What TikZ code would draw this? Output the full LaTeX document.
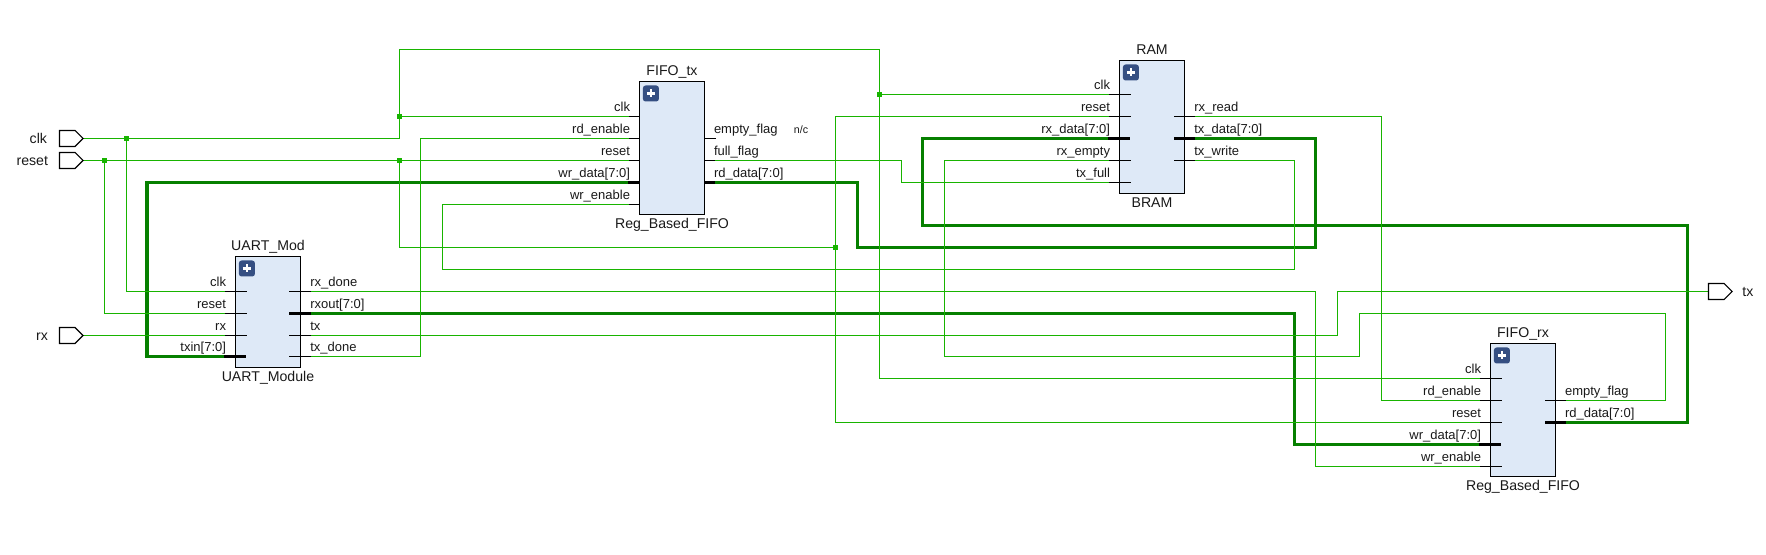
\documentclass[tikz,border=0pt]{standalone}
\usepackage{fontspec}
\setmainfont{Liberation Sans}
\definecolor{wire}{RGB}{24,180,0}
\definecolor{buswire}{RGB}{6,128,0}
\definecolor{modfill}{RGB}{222,233,247}
\definecolor{plusfill}{RGB}{53,79,130}
\definecolor{txt}{RGB}{25,25,25}
\tikzset{
  net/.style={draw=wire,line width=0.85pt,line join=miter},
  bus/.style={draw=buswire,line width=2.4pt,line join=miter},
  thinstub/.style={draw=black,line width=0.8pt},
  busstub/.style={draw=black,line width=2.4pt},
  module/.style={draw=black,line width=0.85pt,fill=modfill},
  portshape/.style={draw=black,line width=0.8pt,fill=white,line join=miter},
  lab/.style={inner sep=0pt,outer sep=0pt,text=txt,font=\fontsize{10.6}{12}\selectfont},
  pinlab/.style={lab,font=\fontsize{9.75}{11}\selectfont},
  plusbox/.style={fill=plusfill,rounded corners=2pt,draw=none},
  junction/.style={fill=wire,draw=none,minimum size=3.9pt,inner sep=0pt,outer sep=0pt,rectangle},
}
% left pin: name, stub outer x, stub inner x, text right x, y, label, style
\newcommand{\pinL}[7]{%
  \coordinate (#1) at (#2,#5);
  \coordinate (#1i) at (#3,#5);
  \draw[#7] (#1) -- (#1i);
  \node[pinlab,anchor=base east] (#1t) at (#4,#5-5) {#6};
}
% right pin
\newcommand{\pinR}[7]{%
  \coordinate (#1) at (#2,#5);
  \coordinate (#1i) at (#3,#5);
  \draw[#7] (#1i) -- (#1);
  \node[pinlab,anchor=base west] (#1t) at (#4,#5-5) {#6};
}
% module: name, x0, y0, x1, y1, top label, bottom label
\newcommand{\modblock}[7]{%
  \path[module] (#2,#3) rectangle (#4,#5);
  \node[inner sep=0pt] (#1) at ({(#2+#4)/2},{(#3+#5)/2}) {};
  \node[lab,anchor=base] (#1top) at ({(#2+#4)/2},#3-6) {#6};
  \node[lab,anchor=base] (#1bot) at ({(#2+#4)/2},#5+14.3) {#7};
  \path[plusbox] (#2+3.4,#3+4) rectangle (#2+19.4,#3+20);
  \draw[white,line width=1.7pt] (#2+7.4,#3+12) -- (#2+15.4,#3+12) (#2+11.4,#3+8) -- (#2+11.4,#3+16);
}
\begin{document}
\begin{tikzpicture}[x=0.75pt,y=-0.75pt]
\useasboundingbox (0,0) rectangle (1766,555);

% ---------- top level ports ----------
\coordinate (pclk) at (83,138.5);
\coordinate (preset) at (83,160.5);
\coordinate (prx) at (83,335.5);
\coordinate (ptx) at (1708,291.5);

% ---------- modules ----------
\modblock{uart}{235.5}{256.5}{300.5}{367.5}{UART\_Mod}{UART\_Module}
\modblock{ftx}{639.5}{81.5}{704.5}{214.5}{FIFO\_tx}{Reg\_Based\_FIFO}
\modblock{ram}{1119.5}{60.5}{1184.5}{193.5}{RAM}{BRAM}
\modblock{frx}{1490.5}{343.5}{1555.5}{476.5}{FIFO\_rx}{Reg\_Based\_FIFO}

% ---------- UART pins ----------
\pinL{uclk}{225}{247}{226}{291.5}{clk}{thinstub}
\pinL{ureset}{225}{247}{226}{313.5}{reset}{thinstub}
\pinL{urx}{225}{247}{226}{335.5}{rx}{thinstub}
\pinL{utxin}{224}{246}{226}{356.5}{txin[7:0]}{busstub}
\pinR{urxdone}{311}{289}{310.3}{291.5}{rx\_done}{thinstub}
\pinR{urxout}{311}{289}{310.3}{313.5}{rxout[7:0]}{busstub}
\pinR{utx}{311}{289}{310.3}{335.5}{tx}{thinstub}
\pinR{utxdone}{311}{289}{310.3}{356.5}{tx\_done}{thinstub}

% ---------- FIFO_tx pins ----------
\pinL{tclk}{629}{639.5}{630}{116.5}{clk}{thinstub}
\pinL{trden}{629}{639.5}{630}{138.5}{rd\_enable}{thinstub}
\pinL{treset}{629}{639.5}{630}{160.5}{reset}{thinstub}
\pinL{twrdata}{628}{639.5}{630}{182.5}{wr\_data[7:0]}{busstub}
\pinL{twren}{629}{639.5}{630}{204.5}{wr\_enable}{thinstub}
\pinR{tempty}{716}{704.5}{714}{138.5}{empty\_flag}{thinstub}
\pinR{tfull}{715}{704.5}{714}{160.5}{full\_flag}{thinstub}
\pinR{trddata}{715}{704.5}{714}{182.5}{rd\_data[7:0]}{busstub}
\node[lab,anchor=base,font=\fontsize{8}{10}\selectfont] (nc) at (801,134) {n/c};

% ---------- RAM pins ----------
\pinL{mclk}{1109}{1130.7}{1110}{94.5}{clk}{thinstub}
\pinL{mreset}{1109}{1130.7}{1110}{116.5}{reset}{thinstub}
\pinL{mrxdata}{1108}{1130}{1110}{138.5}{rx\_data[7:0]}{busstub}
\pinL{mrxempty}{1109}{1130.7}{1110}{160.5}{rx\_empty}{thinstub}
\pinL{mtxfull}{1109}{1130.7}{1110}{182.5}{tx\_full}{thinstub}
\pinR{mrxread}{1195}{1174}{1194.3}{116.5}{rx\_read}{thinstub}
\pinR{mtxdata}{1195}{1174}{1194.3}{138.5}{tx\_data[7:0]}{busstub}
\pinR{mtxwrite}{1195}{1174}{1194.3}{160.5}{tx\_write}{thinstub}

% ---------- FIFO_rx pins ----------
\pinL{rclk}{1480}{1501.7}{1481}{378.5}{clk}{thinstub}
\pinL{rrden}{1480}{1501.7}{1481}{400.5}{rd\_enable}{thinstub}
\pinL{rreset}{1480}{1501.7}{1481}{422.5}{reset}{thinstub}
\pinL{rwrdata}{1479}{1500.7}{1481}{444.5}{wr\_data[7:0]}{busstub}
\pinL{rwren}{1480}{1501.7}{1481}{466.5}{wr\_enable}{thinstub}
\pinR{rempty}{1566}{1545}{1565}{400.5}{empty\_flag}{thinstub}
\pinR{rrddata}{1566}{1545}{1565}{422.5}{rd\_data[7:0]}{busstub}

% ---------- buses ----------
\draw[bus] (utxin) -- (147,356.5) |- (twrdata);
\draw[bus] (urxout) -- (1294.5,313.5) |- (rwrdata);
\draw[bus] (trddata) -- (857.5,182.5) |- (1315.5,247.5) |- (mtxdata);
\draw[bus] (mrxdata) -- (922.5,138.5) |- (1687.5,225.5) |- (rrddata);

% ---------- junctions ----------
\node[junction] (j1) at (126.5,138.5) {};
\node[junction] (j2) at (399.5,116.5) {};
\node[junction] (j3) at (879.5,94.5) {};
\node[junction] (j4) at (104.5,160.5) {};
\node[junction] (j5) at (399.5,160.5) {};
\node[junction] (j6) at (835.5,247.5) {};

% ---------- nets ----------
\draw[net] (pclk) -- (j1.center) -- (399.5,138.5) -- (j2.center) -- (399.5,49.5) -| (j3.center) |- (rclk);
\draw[net] (j1.center) |- (uclk);
\draw[net] (j2.center) -- (tclk);
\draw[net] (j3.center) -- (mclk);
\draw[net] (preset) -- (treset);
\draw[net] (j4.center) |- (ureset);
\draw[net] (j5.center) |- (j6.center);
\draw[net] (mreset) -- (835.5,116.5) -- (j6.center) |- (rreset);
\draw[net] (prx) -- (urx);
\draw[net] (utx) -- (1337.5,335.5) |- (ptx);
\draw[net] (utxdone) -- (420.5,356.5) |- (trden);
\draw[net] (urxdone) -- (1315.5,291.5) |- (rwren);
\draw[net] (tfull) -- (901.5,160.5) |- (mtxfull);
\draw[net] (twren) -- (442.5,204.5) |- (1294.5,269.5) |- (mtxwrite);
\draw[net] (mrxempty) -- (944.5,160.5) |- (1359.5,356.5) |- (1665.5,313.5) |- (rempty);
\draw[net] (mrxread) -- (1381.5,116.5) |- (rrden);

% ---------- port shapes ----------
\draw[portshape] (59.5,130.5) -- (75,130.5) -- (83,138.5) -- (75,146.5) -- (59.5,146.5) -- cycle;
\draw[portshape] (59.5,152.5) -- (75,152.5) -- (83,160.5) -- (75,168.5) -- (59.5,168.5) -- cycle;
\draw[portshape] (59.5,327.5) -- (75,327.5) -- (83,335.5) -- (75,343.5) -- (59.5,343.5) -- cycle;
\draw[portshape] (1708.5,283.5) -- (1724,283.5) -- (1732,291.5) -- (1724,299.5) -- (1708.5,299.5) -- cycle;
\node[lab,anchor=base east] (lclk) at (47,143.3) {clk};
\node[lab,anchor=base east] (lreset) at (48,165.3) {reset};
\node[lab,anchor=base east] (lrx) at (48,340.3) {rx};
\node[lab,anchor=base west] (ltx) at (1742.3,296.3) {tx};
\end{tikzpicture}
\end{document}
